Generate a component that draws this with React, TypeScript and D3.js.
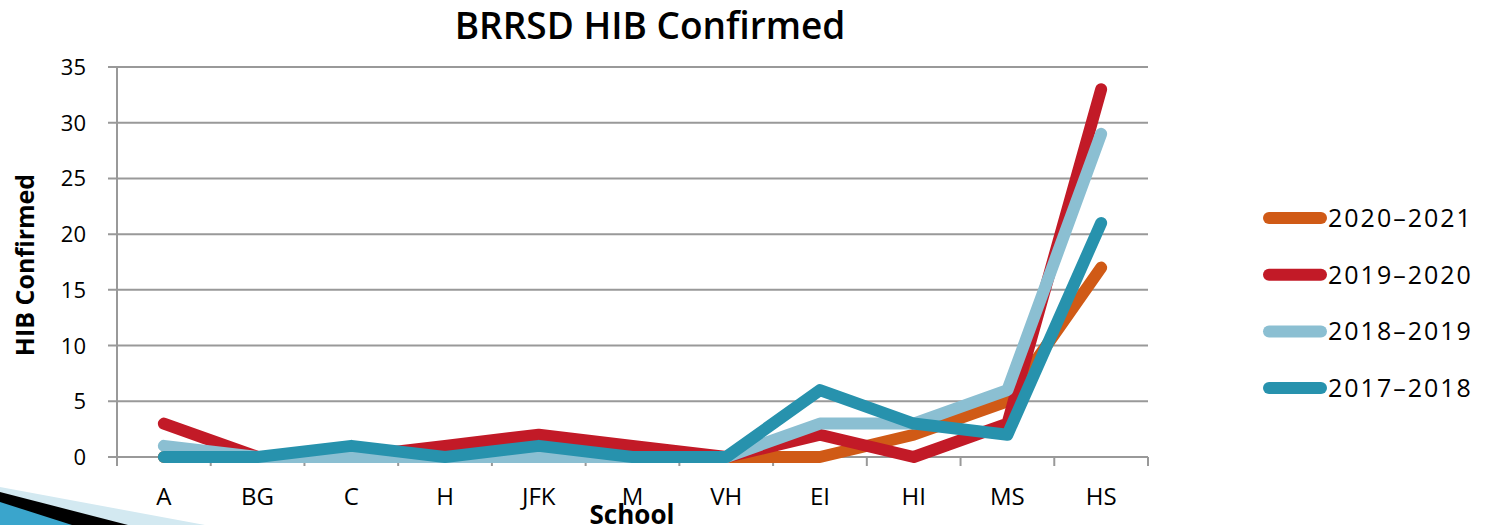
import * as d3 from "d3";

const schools = ["A", "BG", "C", "H", "JFK", "M", "VH", "EI", "HI", "MS", "HS"];
const yTicks = [0, 5, 10, 15, 20, 25, 30, 35];

const y2020 = [0, 0, 0, 0, 0, 0, 0, 0, 2, 5, 17];
const y2019 = [3, 0, 0, 1, 2, 1, 0, 2, 0, 3, 33];
const y2018 = [1, 0, 0, 0, 0, 0, 0, 3, 3, 6, 29];
const y2017 = [0, 0, 1, 0, 1, 0, 0, 6, 3, 2, 21];

const series = [
  { name: "2020–2021", values: y2020, color: "#D05A16" },
  { name: "2019–2020", values: y2019, color: "#C21A27" },
  { name: "2018–2019", values: y2018, color: "#8BBFD2" },
  { name: "2017–2018", values: y2017, color: "#2792AD" },
];

const W = 1489;
const H = 525;
const left = 117;
const right = 1148;
const top = 67;
const bottom = 457;
const font = "'Open Sans', 'DejaVu Sans', sans-serif";

export default function App() {
  const x = d3.scaleBand().domain(schools).range([left, right]);
  const y = d3.scaleLinear().domain([0, 35]).range([bottom, top]);
  const line = d3
    .line<number>()
    .x((_, i) => (x(schools[i]) ?? 0) + x.bandwidth() / 2)
    .y((d) => y(d));

  const boundaries = schools.map((s) => x(s) ?? 0).concat([right]);

  return (
    <svg
      width={W}
      height={H}
      style={{ position: "absolute", left: 0, top: 0, background: "#fff" }}
      fontFamily={font}
    >
      {/* slide decoration */}
      <polygon points="0,487 205,525 0,525" fill="#D3E9F1" />
      <polygon points="0,492 128,525 0,525" fill="#000" />
      <polygon points="0,502 72,525 0,525" fill="#3AA5CC" />

      <text x={650} y={39} textAnchor="middle" fontSize={37} fontWeight={600}>
        BRRSD HIB Confirmed
      </text>

      {yTicks.map((t) => (
        <g key={t}>
          <line x1={108} x2={right} y1={y(t)} y2={y(t)} stroke="#999" strokeWidth={2} />
          <text x={86} y={y(t) + 8} textAnchor="end" fontSize={22}>
            {t}
          </text>
        </g>
      ))}
      <line x1={left} x2={left} y1={top} y2={bottom + 9} stroke="#999" strokeWidth={2} />
      {boundaries.map((b, i) => (
        <line key={i} x1={b} x2={b} y1={bottom} y2={bottom + 9} stroke="#999" strokeWidth={2} />
      ))}
      {schools.map((s) => (
        <text
          key={s}
          x={(x(s) ?? 0) + x.bandwidth() / 2}
          y={505}
          textAnchor="middle"
          fontSize={24}
        >
          {s}
        </text>
      ))}

      <text
        transform={`translate(34,265) rotate(-90)`}
        textAnchor="middle"
        fontSize={25}
        fontWeight={700}
      >
        HIB Confirmed
      </text>
      <text x={632} y={524} textAnchor="middle" fontSize={26} fontWeight={700}>
        School
      </text>

      {series.map((s) => (
        <path
          key={s.name}
          d={line(s.values) ?? ""}
          fill="none"
          stroke={s.color}
          strokeWidth={12}
          strokeLinecap="round"
          strokeLinejoin="round"
        />
      ))}

      {series.map((s, i) => {
        const ly = 218 + i * 56.7;
        return (
          <g key={s.name}>
            <line x1={1269} x2={1321} y1={ly} y2={ly} stroke={s.color} strokeWidth={12} strokeLinecap="round" />
            <text x={1328} y={ly + 9} fontSize={25} letterSpacing={2}>
              {s.name}
            </text>
          </g>
        );
      })}
    </svg>
  );
}
